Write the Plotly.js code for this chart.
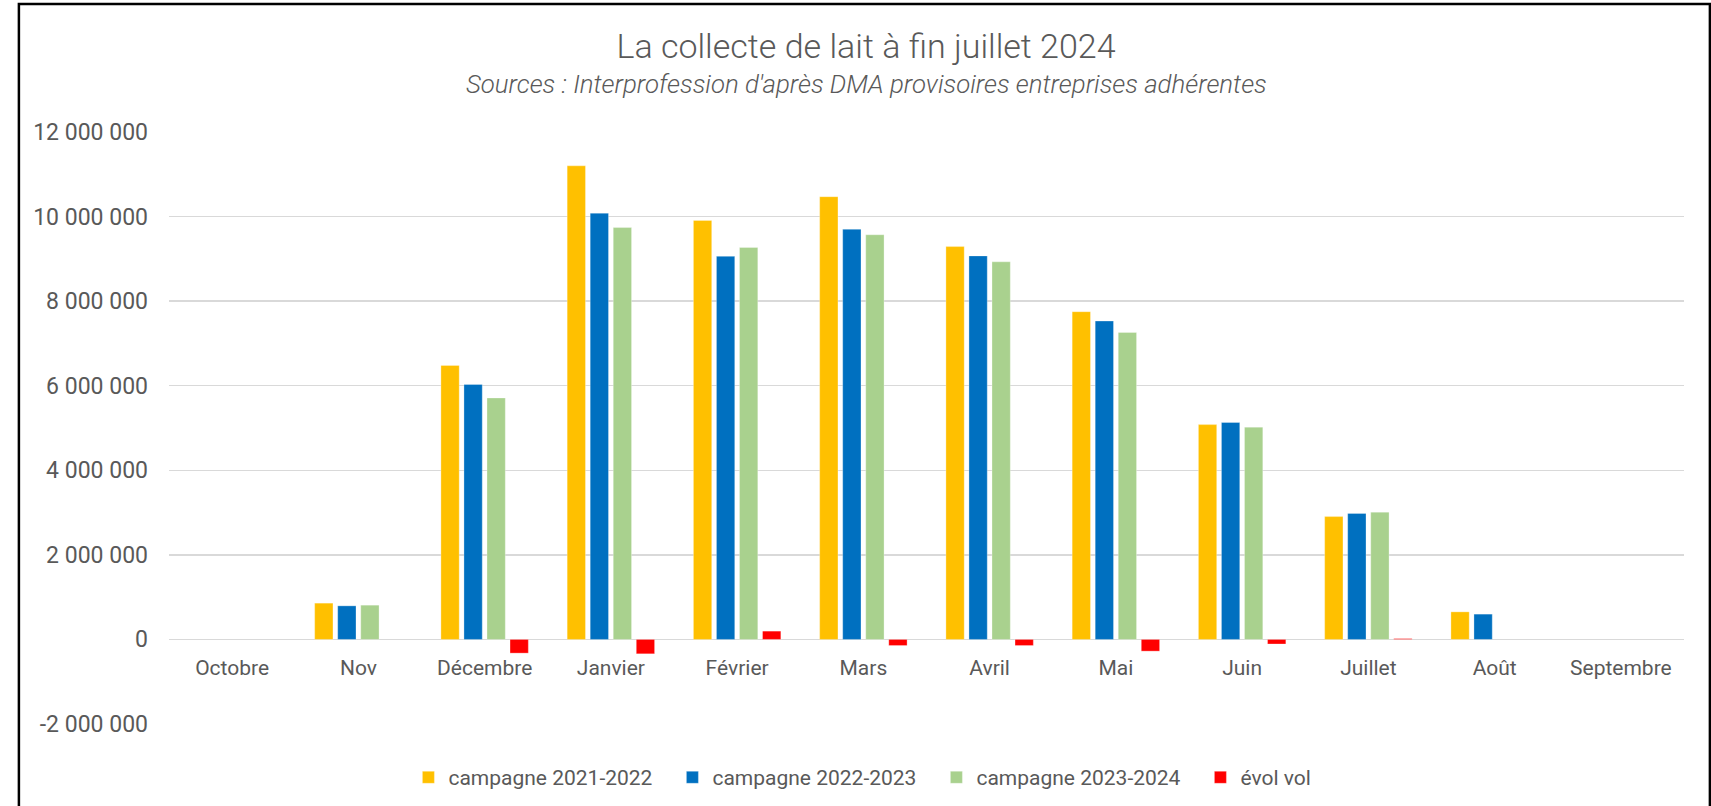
<!DOCTYPE html>
<html>
<head>
<meta charset="utf-8">
<script src="https://cdn.plot.ly/plotly-3.0.1.min.js"></script>
<style>
html,body{margin:0;padding:0;background:#fff;}
#chart{width:1711px;height:806px;}
</style>
</head>
<body>
<div id="chart"></div>
<script>
var months = ['Octobre','Nov','Décembre','Janvier','Février','Mars','Avril','Mai','Juin','Juillet','Août','Septembre'];
var camp2122 = [null, 858000, 6480000, 11200000, 9910000, 10470000, 9290000, 7750000, 5080000, 2905000, 652000, null];
var camp2223 = [null, 794000, 6030000, 10080000, 9060000, 9700000, 9070000, 7530000, 5130000, 2980000, 598000, null];
var camp2324 = [null, 810000, 5710000, 9740000, 9270000, 9570000, 8930000, 7260000, 5020000, 3010000, null, null];
var evolVol  = [null, null, -324000, -340000, 196000, -144000, -144000, -277000, -108000, 20000, null, null];
var seriesNames = ['campagne 2021-2022','campagne 2022-2023','campagne 2023-2024','évol vol'];
var tickVals = [-2000000, 0, 2000000, 4000000, 6000000, 8000000, 10000000, 12000000];
var tickText = ['-2 000 000','0','2 000 000','4 000 000','6 000 000','8 000 000','10 000 000','12 000 000'];

var colors = ['#FFC000','#0070C0','#A9D18E','#FF0000'];
var allSeries = [camp2122, camp2223, camp2324, evolVol];

var traces = allSeries.map(function(vals, i){
  return {
    type:'bar', x: months, y: vals, name: seriesNames[i],
    marker:{color: colors[i], line:{color:'rgba(255,255,255,0.6)', width:0.5}},
    hoverinfo:'skip'
  };
});

var W = 1711, H = 806;
var L = 168.6, R = 27.4, T = 131.7, B = 81.7;
var pw = W - L - R, ph = H - T - B;
function px2x(p){ return (p - L)/pw; }
function py2y(p){ return (H - B - p)/ph; }

var font = 'Roboto, "Liberation Sans", sans-serif';
var txt = '#595959';

var layout = {
  width: W, height: H,
  margin:{l:L, r:R, t:T, b:B, pad:0, autoexpand:false},
  paper_bgcolor:'#ffffff', plot_bgcolor:'#ffffff',
  separators:', ',
  font:{family:font, color:txt, size:21},
  title:{text:'La collecte de lait à fin juillet 2024', font:{family:font, size:34, color:txt, weight:300},
         x:866/W, xanchor:'center', xref:'container', y:1-46/H, yanchor:'middle', yref:'container'},
  barmode:'group', bargap:0.27, bargroupgap:0.205,
  xaxis:{type:'category', showgrid:false, zeroline:false, showline:false, ticks:'',
         anchor:'free', position: py2y(639.3), ticklabelstandoff: 14,
         tickfont:{family:font, size:21, color:txt}, fixedrange:true, automargin:false},
  yaxis:{range:[-2000000, 12000000], tickvals:tickVals, ticktext:tickText,
         showgrid:true, gridcolor:'#D9D9D9', gridwidth:1.5,
         zeroline:true, zerolinecolor:'#D9D9D9', zerolinewidth:1.5,
         showline:false, ticks:'', ticklabelstandoff: 20,
         tickfont:{family:font, size:23, color:txt}, fixedrange:true, automargin:false},
  legend:{orientation:'h', x: px2x(408), xanchor:'left', y: py2y(778), yanchor:'middle',
          font:{family:font, size:21, color:txt}, bgcolor:'rgba(0,0,0,0)',
          entrywidth: 219, entrywidthmode:'pixels', itemclick:false, itemdoubleclick:false},
  annotations:[{
    text:'<i>Sources : Interprofession d\'après DMA provisoires entreprises adhérentes</i>',
    xref:'paper', yref:'paper', x: px2x(866), y: py2y(84), xanchor:'center', yanchor:'middle',
    showarrow:false, font:{family:font, size:25.8, color:txt, weight:300}
  }],
  shapes:[{
    type:'rect', xref:'paper', yref:'paper', layer:'above',
    x0: px2x(18.5), x1: px2x(1709.5), y0: py2y(900), y1: py2y(3.5),
    line:{color:'#000000', width:2.5}, fillcolor:'rgba(0,0,0,0)'
  }],
  showlegend:true
};

Plotly.newPlot('chart', traces, layout, {staticPlot:true, displayModeBar:false});
</script>
</body>
</html>
